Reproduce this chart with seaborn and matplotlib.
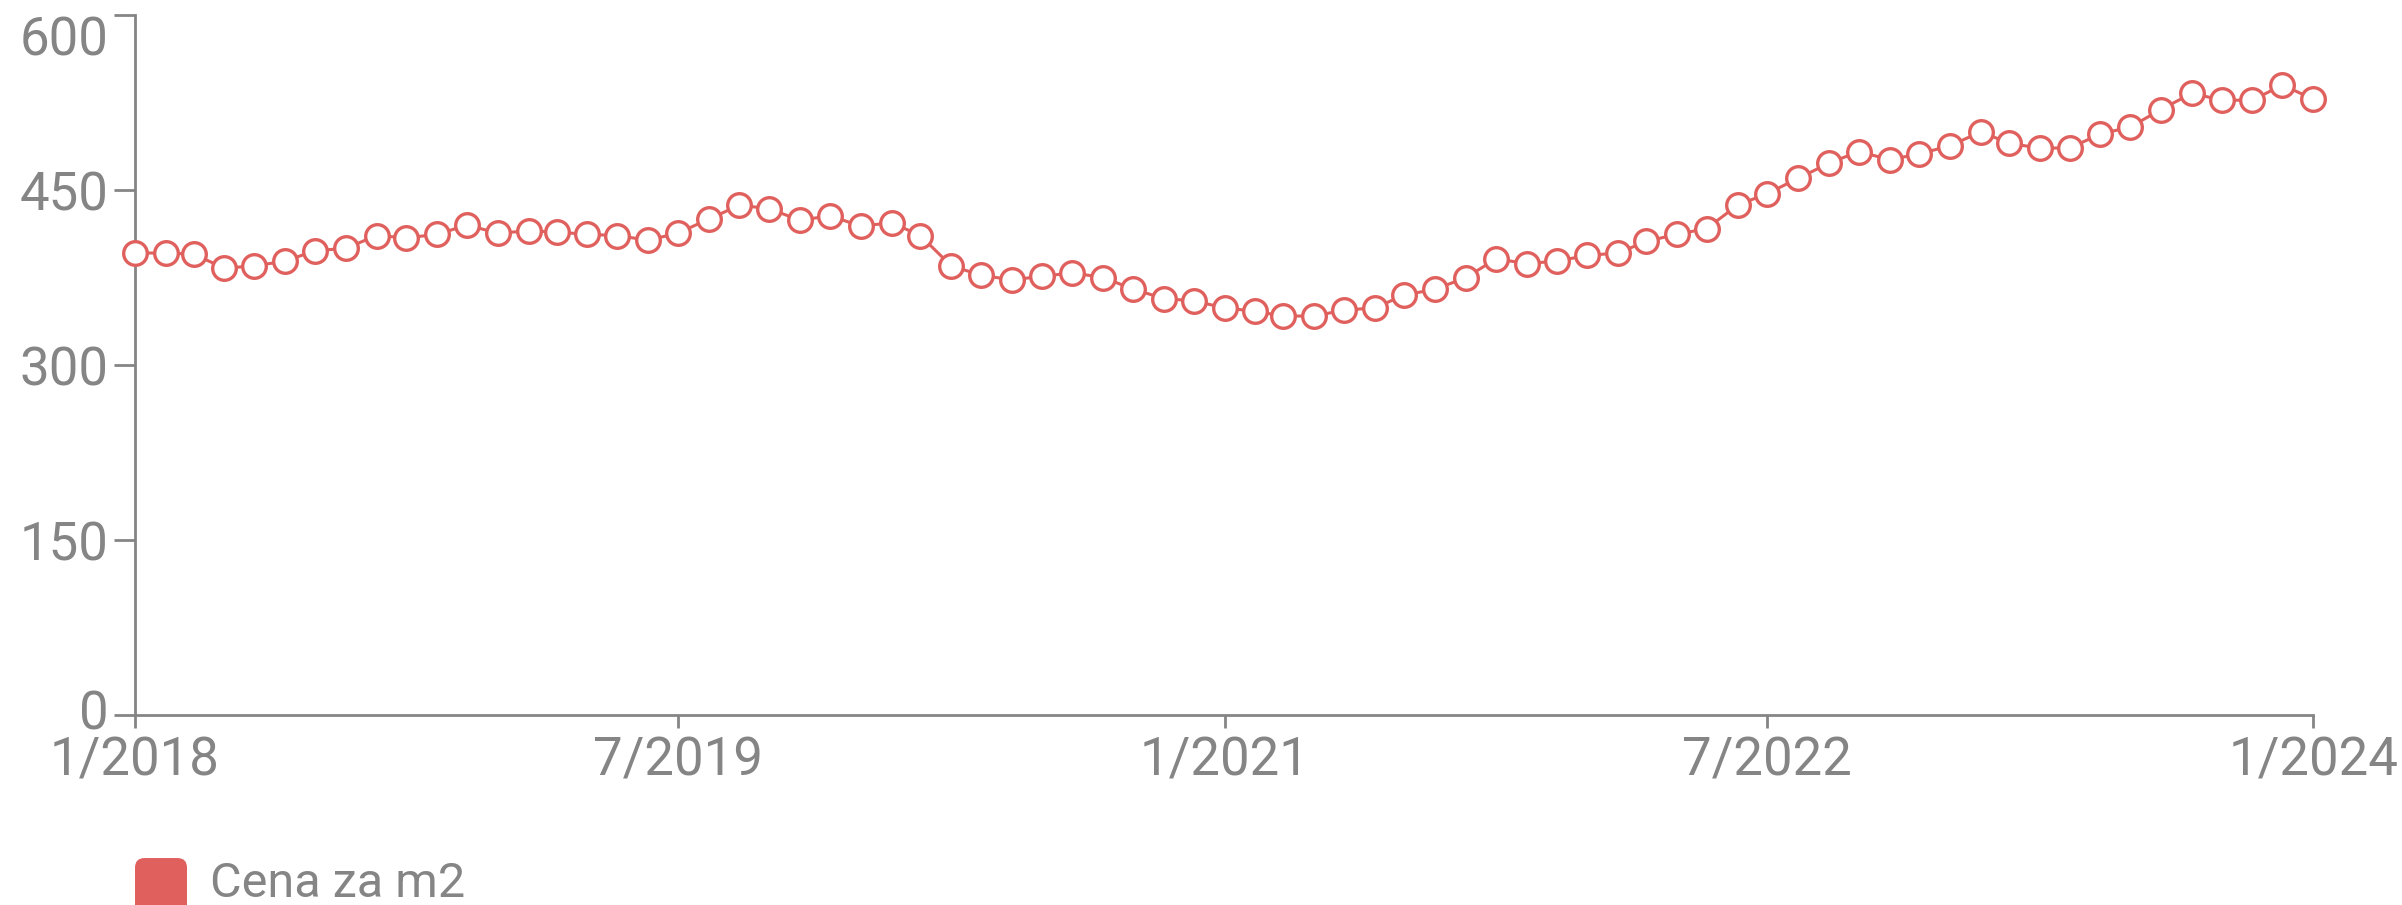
import pandas as pd
import matplotlib
matplotlib.use("Agg")
import matplotlib.pyplot as plt
import matplotlib.dates as mdates
import matplotlib.transforms as mtransforms
from matplotlib.patches import FancyBboxPatch
import seaborn as sns

# monthly price per m2, 1/2018 .. 1/2024
months = pd.date_range("2018-01-01", "2024-01-01", freq="MS")
cena = [396, 396, 395, 383, 385, 389, 398, 400, 411, 409, 412, 420,
        413, 415, 414, 412, 411, 407, 413, 425, 437, 434, 424, 428,
        419, 422, 411, 385, 377, 373, 376, 379, 375, 365, 357, 355,
        349, 346, 342, 342, 347, 349, 360, 365, 375, 391, 387, 389,
        394, 396, 406, 412, 417, 437, 447, 460, 473, 483, 476, 481,
        488, 500, 490, 486, 486, 498, 504, 519, 533, 527, 527, 540,
        528]
series_name = "Cena za m2"
y_ticks = [0, 150, 300, 450, 600]
x_ticks = ["2018-01-01", "2019-07-01", "2021-01-01", "2022-07-01", "2024-01-01"]
x_labels = ["1/2018", "7/2019", "1/2021", "7/2022", "1/2024"]

df = pd.DataFrame({"mesic": months, "cena": cena})

red = "#df605d"
gray = "#858585"

sns.set_style("white")
plt.rcParams["font.family"] = ["Roboto", "DejaVu Sans"]

fig = plt.figure(figsize=(24.02, 9.05), dpi=100)
ax = fig.add_axes([0.0562, 0.2099, 0.9068, 0.7735])

sns.lineplot(data=df, x="mesic", y="cena", ax=ax, color=red, linewidth=2.2,
             marker="o", markersize=17, markerfacecolor="white",
             markeredgecolor=red, markeredgewidth=2.4, clip_on=False, zorder=3)

ax.set_xlim(pd.Timestamp("2018-01-01"), pd.Timestamp("2024-01-01"))
ax.set_ylim(0, 600)
ax.set_yticks(y_ticks)
ax.set_xticks([mdates.date2num(pd.Timestamp(t)) for t in x_ticks])
ax.set_xticklabels(x_labels)
ax.set_xlabel("")
ax.set_ylabel("")

for side in ["top", "right"]:
    ax.spines[side].set_visible(False)
for side in ["left", "bottom"]:
    ax.spines[side].set_color(gray)
    ax.spines[side].set_linewidth(2)

ax.tick_params(axis="y", length=15, width=2, color=gray, labelcolor=gray,
               labelsize=38, pad=4, left=True)
ax.tick_params(axis="x", length=9, width=2, color=gray, labelcolor=gray,
               labelsize=38, pad=6, bottom=True)
ax.grid(False)

# top label sits below its tick so it is not cut off, "0" nudged up a bit
fig.canvas.draw()
ylabels = ax.get_yticklabels()
ylabels[-1].set_verticalalignment("top")
ylabels[0].set_transform(ylabels[0].get_transform()
                         + mtransforms.ScaledTranslation(0, 4 / 72, fig.dpi_scale_trans))

# legend: rounded swatch + label below the plot
fig.patches.append(FancyBboxPatch((135 / 2402, -0.03), 52 / 2402, 0.0819,
                                  boxstyle="round,pad=0,rounding_size=0.004",
                                  transform=fig.transFigure, facecolor=red,
                                  edgecolor="none", mutation_aspect=2402 / 905))
fig.text(210 / 2402, 1 - 884 / 905, series_name, color=gray, fontsize=35,
         va="center", ha="left")

fig.savefig("out.png", dpi=100)
